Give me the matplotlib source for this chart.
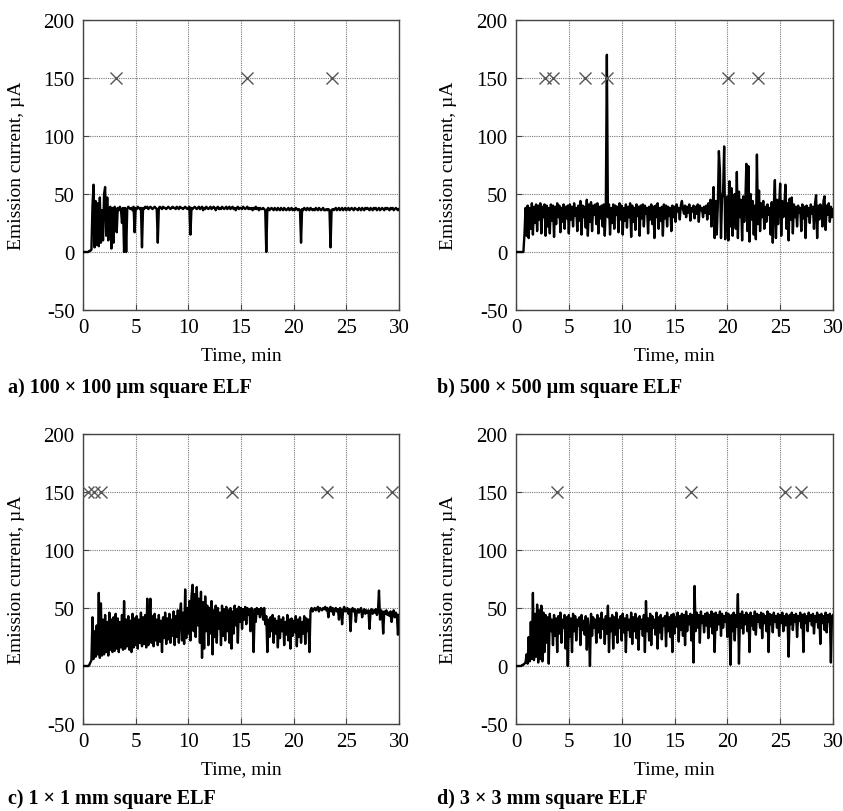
import numpy as np
import matplotlib
matplotlib.use("Agg")
import matplotlib.pyplot as plt

plt.rcParams['font.family'] = ['Liberation Serif', 'DejaVu Serif']
plt.rcParams['axes.unicode_minus'] = False

# sampling of the traces (min)
t_step = 0.1

# a) 100 x 100 um square ELF
cur_a = [
    0, 0, 0, 0, 0, 0, 1, 1, 2, 40,
    58, 4, 44, 6, 42, 5, 47, 8, 36, 10,
    50, 56, 14, 47, 10, 38, 39, 3, 38, 8,
    39, 37, 17, 38, 36, 39, 37, 25, 38, 0,
    38, 0, 37, 39, 38, 37, 38, 36, 39, 17,
    38, 37, 39, 38, 37, 38, 4, 38, 37, 39,
    38, 39, 37, 38, 39, 38, 37, 38, 39, 38,
    37, 8, 38, 39, 38, 37, 39, 38, 38, 37,
    38, 39, 38, 37, 38, 39, 38, 38, 37, 39,
    38, 37, 39, 38, 38, 37, 38, 39, 38, 37,
    38, 39, 15, 38, 37, 38, 39, 38, 37, 38,
    39, 37, 38, 39, 36, 38, 37, 39, 38, 37,
    38, 39, 37, 38, 39, 38, 36, 38, 39, 37,
    38, 37, 39, 38, 37, 38, 39, 37, 38, 39,
    37, 38, 39, 37, 38, 36, 38, 39, 37, 38,
    38, 37, 39, 38, 37, 38, 39, 37, 38, 37,
    38, 36, 38, 37, 39, 37, 38, 36, 38, 37,
    37, 38, 37, 36, 0, 37, 38, 36, 37, 38,
    37, 36, 38, 37, 36, 38, 37, 36, 38, 37,
    36, 38, 37, 36, 37, 38, 36, 37, 38, 36,
    37, 36, 38, 37, 36, 37, 36, 8, 37, 36,
    38, 37, 36, 38, 37, 36, 38, 37, 36, 37,
    36, 38, 37, 36, 38, 37, 36, 37, 38, 36,
    36, 37, 36, 37, 36, 4, 36, 37, 36, 37,
    38, 36, 37, 38, 36, 37, 38, 36, 37, 38,
    36, 37, 38, 36, 37, 38, 37, 36, 38, 37,
    37, 36, 38, 37, 36, 38, 37, 36, 38, 37,
    38, 37, 36, 38, 37, 36, 38, 37, 38, 36,
    37, 38, 36, 37, 38, 37, 36, 38, 37, 38,
    37, 36, 38, 37, 38, 36, 37, 38, 37, 36,
    37,
]

# b) 500 x 500 um square ELF
cur_b = [
    0, 0, 0, 0, 0, 0, 0, 0, 15, 38,
    14, 40, 12, 38, 20, 42, 15, 39, 25, 41,
    18, 40, 28, 42, 16, 39, 30, 41, 14, 40,
    22, 38, 16, 41, 27, 40, 13, 39, 24, 42,
    30, 40, 17, 38, 26, 41, 20, 39, 29, 40,
    16, 41, 28, 39, 22, 42, 31, 38, 18, 40,
    27, 44, 15, 40, 30, 39, 21, 45, 14, 41,
    26, 43, 18, 40, 32, 41, 24, 42, 16, 39,
    29, 40, 22, 41, 14, 39, 170, 30, 41, 15,
    38, 25, 41, 20, 40, 32, 39, 17, 42, 28,
    40, 15, 38, 27, 41, 21, 39, 30, 42, 13,
    40, 26, 38, 19, 41, 31, 39, 14, 40, 29,
    41, 22, 40, 33, 38, 16, 39, 28, 41, 24,
    39, 12, 40, 30, 42, 20, 38, 27, 39, 14,
    41, 29, 40, 22, 39, 31, 38, 18, 40, 30,
    39, 26, 41, 35, 38, 28, 40, 44, 37, 33,
    40, 30, 39, 34, 41, 27, 38, 35, 40, 29,
    39, 33, 41, 26, 40, 36, 38, 30, 39, 34,
    40, 28, 42, 33, 45, 22, 38, 56, 12, 44,
    15, 40, 87, 70, 12, 46, 52, 91, 11, 40,
    48, 10, 61, 22, 55, 14, 43, 50, 20, 69,
    12, 52, 30, 45, 10, 48, 26, 42, 76, 18,
    74, 9, 50, 28, 44, 15, 40, 11, 84, 24,
    53, 18, 42, 30, 44, 20, 39, 26, 41, 32,
    38, 15, 43, 8, 40, 62, 12, 45, 24, 40,
    59, 14, 44, 30, 40, 58, 20, 42, 10, 46,
    28, 47, 16, 41, 30, 39, 22, 40, 34, 38,
    18, 41, 29, 39, 12, 40, 31, 38, 25, 41,
    33, 39, 20, 42, 49, 12, 40, 28, 41, 38,
    22, 44, 48, 19, 40, 32, 42, 26, 39, 30,
    37,
]

# c) 1 x 1 mm square ELF
cur_c = [
    0, 0, 0, 0, 0, 0, 1, 3, 5, 42,
    6, 30, 8, 35, 10, 63, 7, 54, 9, 40,
    10, 44, 12, 38, 9, 46, 14, 40, 12, 42,
    13, 45, 15, 41, 12, 38, 16, 44, 14, 56,
    15, 40, 17, 43, 14, 39, 12, 45, 16, 41,
    18, 43, 15, 40, 20, 46, 17, 42, 19, 44,
    16, 58, 18, 41, 58, 20, 43, 17, 45, 22,
    40, 18, 44, 21, 39, 12, 42, 24, 46, 19,
    41, 23, 45, 20, 40, 26, 47, 18, 43, 25,
    48, 20, 44, 54, 22, 46, 19, 66, 24, 50,
    28, 56, 22, 60, 70, 30, 62, 25, 68, 35,
    58, 20, 64, 7, 55, 15, 60, 30, 52, 18,
    50, 28, 56, 10, 48, 25, 52, 20, 50, 32,
    46, 18, 52, 26, 49, 22, 51, 30, 48, 20,
    50, 15, 47, 28, 52, 35, 49, 20, 51, 38,
    50, 32, 49, 40, 51, 36, 50, 44, 49, 30,
    50, 41, 12, 49, 38, 50, 45, 49, 42, 50,
    49, 40, 50, 36, 43, 12, 40, 25, 42, 30,
    44, 20, 41, 28, 39, 16, 43, 24, 40, 30,
    42, 18, 38, 27, 44, 22, 40, 15, 41, 26,
    39, 29, 43, 17, 40, 25, 42, 20, 38, 28,
    43, 19, 41, 30, 40, 12, 48, 50, 47, 49,
    50, 48, 49, 51, 47, 50, 49, 48, 50, 49,
    51, 48, 50, 42, 49, 51, 47, 50, 44, 49,
    50, 47, 49, 40, 50, 48, 36, 49, 51, 47,
    48, 50, 45, 49, 30, 48, 50, 47, 49, 38,
    47, 49, 46, 48, 50, 42, 47, 49, 45, 48,
    46, 48, 32, 47, 49, 45, 48, 46, 49, 44,
    47, 65, 40, 48, 46, 28, 47, 45, 48, 44,
    46, 43, 47, 38, 45, 48, 42, 46, 44, 27,
    44,
]

# d) 3 x 3 mm square ELF
cur_d = [
    0, 0, 0, 0, 0, 0, 1, 1, 2, 3,
    10, 2, 25, 4, 38, 6, 63, 5, 45, 8,
    53, 3, 48, 6, 52, 4, 46, 12, 44, 20,
    42, 2, 45, 30, 40, 18, 44, 26, 41, 12,
    43, 28, 46, 20, 40, 33, 44, 15, 42, 0,
    44, 25, 41, 12, 45, 30, 43, 22, 40, 35,
    42, 18, 44, 31, 39, 27, 43, 14, 41, 29,
    0, 45, 26, 42, 33, 40, 20, 44, 29, 41,
    24, 46, 32, 40, 19, 43, 28, 52, 12, 41,
    30, 44, 15, 42, 27, 46, 20, 40, 33, 43,
    22, 45, 29, 41, 12, 44, 31, 40, 25, 46,
    19, 42, 30, 45, 24, 41, 14, 43, 32, 40,
    26, 44, 12, 56, 30, 41, 22, 45, 18, 43,
    33, 40, 27, 46, 15, 42, 29, 44, 23, 41,
    35, 43, 17, 46, 30, 42, 25, 44, 12, 45,
    28, 42, 34, 46, 21, 43, 31, 45, 26, 44,
    18, 47, 30, 43, 36, 45, 22, 44, 3, 69,
    30, 46, 33, 44, 20, 47, 37, 43, 29, 45,
    35, 46, 24, 44, 34, 47, 28, 45, 12, 46,
    31, 44, 36, 47, 26, 45, 33, 43, 38, 46,
    25, 45, 35, 1, 44, 30, 46, 22, 44, 34,
    62, 2, 45, 33, 47, 28, 44, 36, 46, 30,
    44, 12, 46, 35, 43, 31, 47, 27, 45, 38,
    44, 33, 46, 24, 45, 37, 43, 30, 47, 12,
    45, 36, 44, 29, 46, 38, 43, 33, 45, 26,
    44, 37, 46, 30, 43, 35, 45, 40, 8, 44,
    36, 46, 31, 44, 38, 45, 25, 43, 39, 46,
    33, 44, 12, 45, 37, 43, 30, 46, 39, 44,
    35, 45, 28, 43, 38, 46, 33, 44, 19, 45,
    37, 43, 31, 46, 29, 44, 38, 45, 3, 43,
    44,
]

# times of the "x" events drawn at 150 uA
marks_a = [3.1, 15.6, 23.6]
marks_b = [2.7, 3.5, 6.5, 8.6, 20.1, 22.9]
marks_c = [0.5, 1.0, 1.7, 14.1, 23.2, 29.3]
marks_d = [3.85, 16.6, 25.5, 27.0]
mark_level = 150

captions = ['a) 100 \u00d7 100 \u00b5m square ELF',
            'b) 500 \u00d7 500 \u00b5m square ELF',
            'c) 1 \u00d7 1 mm square ELF',
            'd) 3 \u00d7 3 mm square ELF']

panels = [(cur_a, marks_a), (cur_b, marks_b), (cur_c, marks_c), (cur_d, marks_d)]

fig = plt.figure(figsize=(8.43, 8.12), dpi=100)
W, H = 843, 812
# axes boxes in pixels: left, top, width, height
boxes = [(83, 21, 316, 290), (516, 21, 317, 290),
         (83, 435, 316, 290), (516, 435, 317, 290)]
cap_pos = [(8, 388), (437, 388), (8, 799), (437, 799)]

for (cur, marks), (l, t, w, h), cap, (cx, cy) in zip(panels, boxes, captions, cap_pos):
    ax = fig.add_axes([l / W, 1 - (t + h) / H, w / W, h / H])
    time = np.arange(len(cur)) * t_step
    ax.plot(time, cur, color='black', lw=1.7, zorder=3)
    ax.plot(marks, [mark_level] * len(marks), linestyle='none', marker='x',
            ms=9, mew=1.0, color='#555555', zorder=4)
    ax.set_xlim(0, 30)
    ax.set_ylim(-50, 200)
    ax.set_xticks(range(0, 31, 5))
    ax.set_yticks(range(-50, 201, 50))
    ax.grid(True, linestyle=(0, (1, 1)), color='#777777', lw=0.8)
    ax.set_axisbelow(True)
    for s in ax.spines.values():
        s.set_color('#444444')
        s.set_linewidth(1.0)
    ax.tick_params(direction='in', length=4, color='#444444', labelsize=15,
                   pad=6, top=False, right=False)
    ax.set_xlabel('Time, min', fontsize=14)
    ax.xaxis.set_label_coords(0.5, -0.125)
    ax.set_ylabel('Emission current, \u00b5A', fontsize=14)
    ax.yaxis.set_label_coords(-0.185, 0.5)
    fig.text(cx / W, 1 - cy / H, cap, fontsize=14.5, fontweight='bold',
             ha='left', va='center')

fig.savefig('out.png', dpi=100)
